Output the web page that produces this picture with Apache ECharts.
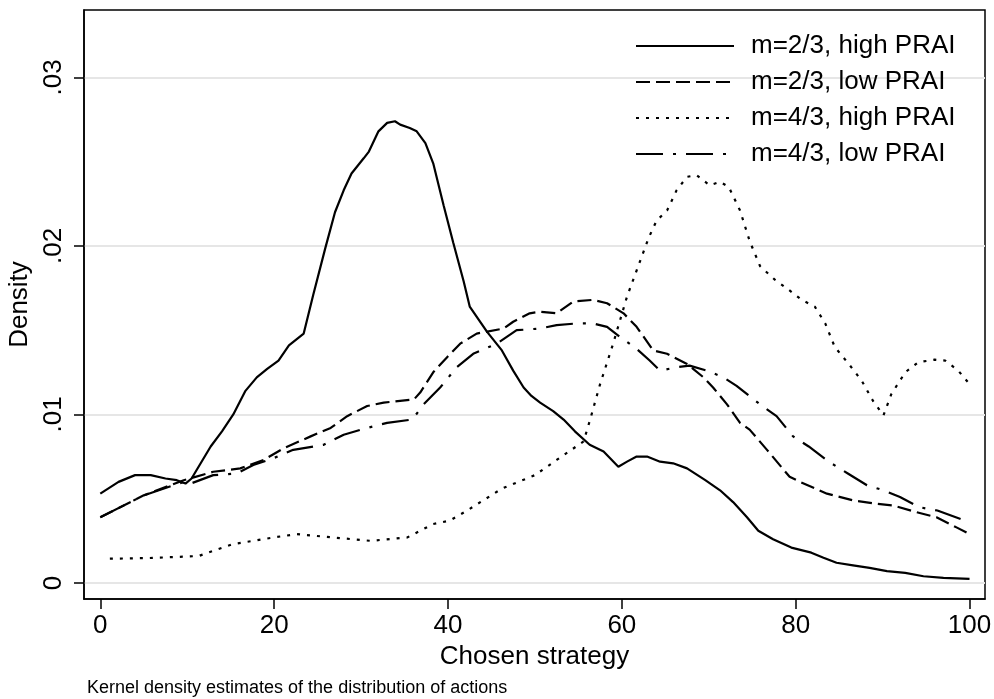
<!DOCTYPE html>
<html>
<head>
<meta charset="utf-8">
<script src="https://cdn.jsdelivr.net/npm/echarts@6/dist/echarts.min.js"></script>
<style>
  html, body { margin: 0; padding: 0; background: #fff; }
  #chart { width: 994px; height: 699px; }
</style>
</head>
<body>
<div id="chart"></div>
<script>
// kernel density curves: [strategy, density]
var high23 = [[0,.0053],[2.1,.0060],[4,.0064],[5.8,.0064],[7.5,.0062],[8.8,.0061],[9.8,.0059],[10.5,.0062],[12.7,.0081],[14,.0090],[15.3,.0100],[16.7,.0114],[18,.0122],[19.2,.0127],[20.5,.0132],[21.7,.0141],[23.4,.0148],[24.5,.0171],[25.9,.0199],[27,.0220],[28,.0233],[28.9,.0243],[30.3,.0252],[30.9,.0256],[32,.0268],[33,.0273],[33.9,.0274],[34.5,.0272],[35.6,.0270],[36.4,.0268],[37.4,.0261],[38.3,.0249],[39.5,.0224],[40.6,.0202],[41.8,.0179],[42.5,.0164],[44.5,.0149],[46.2,.0138],[47.5,.0126],[48.7,.0116],[49.6,.0111],[50.6,.0107],[52.1,.0102],[53.3,.0097],[54.6,.0090],[56.3,.0082],[57.9,.0078],[59.6,.0069],[60.6,.0072],[61.7,.0075],[62.9,.0075],[64.4,.0072],[65.9,.0071],[67.5,.0068],[69.6,.0061],[71.3,.0055],[72.8,.0048],[74.4,.0039],[75.7,.0031],[77.4,.0026],[79.5,.0021],[81.8,.0018],[83.2,.0015],[84.7,.0012],[86.6,.00105],[88.5,.0009],[90.5,.0007],[92.6,.0006],[94.7,.0004],[97,.0003],[100,.00024]];
var low23 = [[0,.0039],[5,.0052],[9.6,.0061],[13,.0066],[16.1,.0068],[18.8,.0073],[21.1,.0080],[24.2,.0087],[26.5,.0092],[28.4,.0099],[30.7,.0105],[32.6,.0107],[36.1,.0109],[36.8,.0113],[38.3,.0125],[39.9,.0134],[41.4,.0142],[43.3,.0148],[46.4,.0151],[47.5,.0155],[49.4,.0160],[50.6,.0161],[52.5,.0160],[54.4,.0167],[56.7,.0168],[58.3,.0166],[60.2,.0160],[61.7,.0152],[63.6,.0138],[65.2,.0136],[67.5,.0130],[69.4,.0122],[70.5,.0116],[72.1,.0106],[73.6,.0095],[74.7,.0091],[76.7,.0079],[79.3,.0063],[80.5,.0060],[83.6,.0053],[86.6,.0049],[89.3,.0047],[91.2,.0046],[93.9,.0042],[96.2,.0039],[98.5,.0033],[100,.0029]];
var high43 = [[1.1,.00144],[5.6,.00148],[11.3,.0016],[15.2,.0023],[19.9,.0027],[22.6,.0029],[26.8,.0027],[31.1,.0025],[35.3,.0027],[38.3,.0035],[40.2,.0037],[42.2,.0043],[46.2,.0056],[50,.0064],[52.5,.0073],[55.6,.0084],[56.3,.0096],[57.5,.0118],[59,.0142],[60.6,.0170],[62.1,.0191],[63.1,.0205],[64,.0215],[65.2,.0221],[66.3,.0233],[67.5,.0241],[68.6,.0242],[70.1,.0236],[71.3,.0238],[72.3,.0235],[73.6,.0221],[74.7,.0203],[75.9,.0188],[77.6,.0180],[79.2,.0174],[80.7,.0168],[82.2,.0164],[83.4,.0154],[84.5,.0140],[86.1,.0130],[87.6,.0120],[88.9,.0108],[90.1,.00995],[91,.0112],[92.6,.0125],[94.1,.0131],[96,.01325],[97.2,.0132],[98.7,.0126],[100,.0118]];
var low43 = [[0,.0039],[5,.0052],[9.6,.0060],[10.4,.0059],[13,.0064],[15.7,.0065],[17.6,.0070],[19.9,.0074],[22.2,.0079],[25.7,.0082],[28,.0088],[30.7,.0092],[33,.0095],[35.9,.0097],[37.2,.0106],[39.1,.0116],[41,.0128],[42.9,.0136],[45.6,.0142],[47.9,.0150],[50.6,.0151],[52.5,.0153],[54.8,.0154],[56.7,.0154],[58.3,.0152],[59.8,.0146],[61.7,.0139],[63.2,.0132],[64.4,.0126],[66.3,.0128],[67.8,.0129],[69.8,.0126],[71.7,.0122],[73.2,.0117],[75.9,.0106],[77.8,.0099],[79.7,.0087],[81.5,.0081],[83.8,.0072],[86,.0065],[88.2,.0058],[90.1,.0055],[92,.0051],[94.2,.0045],[96.3,.0043],[100,.0036]];

var xTicks = [0, 20, 40, 60, 80, 100];
var yTicks = [0, 0.01, 0.02, 0.03];
var names = ['m=2/3, high PRAI', 'm=2/3, low PRAI', 'm=4/3, high PRAI', 'm=4/3, low PRAI'];

(function () {
    var myChart = echarts.init(document.getElementById('chart'));
    var font = 'Liberation Sans, Arial, Helvetica, sans-serif';

    function curve(name, data, dash) {
        return {
            name: name,
            type: 'line',
            data: data,
            symbol: 'none',
            smooth: false,
            lineStyle: { color: '#000', width: 2.2, type: dash },
            itemStyle: { color: '#000' },
            z: 3
        };
    }

    option = {
        animation: false,
        backgroundColor: '#fff',
        title: {
            text: 'Kernel density estimates of the distribution of actions',
            left: 87,
            top: 679,
            padding: 0,
            textStyle: { fontFamily: font, fontSize: 18, fontWeight: 'normal', color: '#000' }
        },
        legend: {
            orient: 'vertical',
            left: 635,
            top: 33,
            padding: 0,
            itemWidth: 98,
            itemHeight: 20,
            itemGap: 10,
            data: names,
            itemStyle: { opacity: 0 },
            textStyle: { fontFamily: font, fontSize: 26, color: '#000', padding: [0, 0, 0, 12] }
        },
        grid: {
            left: 84,
            top: 10,
            width: 901,
            height: 589,
            outerBoundsMode: 'none',
            show: true,
            borderColor: '#000',
            borderWidth: 1.5,
            containLabel: false
        },
        xAxis: {
            type: 'value',
            min: -1.875,
            max: 101.78,
            name: 'Chosen strategy',
            nameLocation: 'middle',
            nameGap: 38,
            nameTextStyle: { fontFamily: font, fontSize: 26, color: '#000' },
            axisLine: { show: true, onZero: false, lineStyle: { color: '#000', width: 1.5 } },
            axisTick: { show: true, length: 10, customValues: xTicks, lineStyle: { color: '#000', width: 1.5 } },
            axisLabel: { customValues: xTicks, fontFamily: font, fontSize: 26, color: '#000', margin: 14 },
            splitLine: { show: false }
        },
        yAxis: {
            type: 'value',
            min: -0.00095,
            max: 0.034,
            name: 'Density',
            nameLocation: 'middle',
            nameGap: 49,
            nameTextStyle: { fontFamily: font, fontSize: 26, color: '#000' },
            axisLine: { show: true, onZero: false, lineStyle: { color: '#000', width: 1.5 } },
            axisTick: { show: true, length: 10, customValues: yTicks, lineStyle: { color: '#000', width: 1.5 } },
            axisLabel: {
                customValues: yTicks,
                rotate: 90,
                fontFamily: font,
                fontSize: 26,
                color: '#000',
                margin: 17,
                formatter: function (v) {
                    return v === 0 ? '0' : String(v).replace(/^0\./, '.');
                }
            },
            splitLine: { show: true, lineStyle: { color: '#e6e6e6', width: 2 } }
        },
        series: [
            curve(names[0], high23, 'solid'),
            curve(names[1], low23, [14, 6]),
            curve(names[2], high43, [3, 7]),
            curve(names[3], low43, [27, 10, 3, 10])
        ]
    };
    myChart.setOption(option);
    window.addEventListener('resize', function () {
        myChart.resize();
    });
})();
</script>
</body>
</html>
